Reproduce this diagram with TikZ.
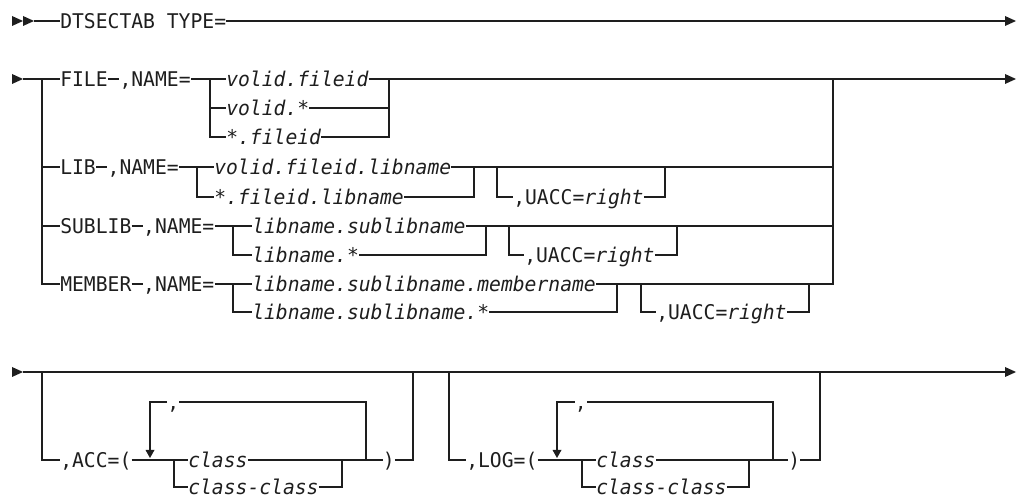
\documentclass[tikz,border=0pt]{standalone}
\usepackage{fontspec}
\newfontfamily\synfont[FakeStretch=0.971]{DejaVu Sans Mono}
\definecolor{ink}{HTML}{1E1E1E}
\newcommand{\synsize}{\fontsize{15.2pt}{17pt}\selectfont}
\begin{document}
\begin{tikzpicture}[x=0.75pt,y=-0.75pt,
  rail/.style={draw=ink, line width=0.95pt},
  kw/.style={font=\synfont\synsize, text=ink, inner xsep=0pt, inner ysep=0pt,
             text height=11.08pt, text depth=0pt, anchor=west},
  vtext/.style={kw, font=\synfont\synsize\itshape},
  arrowfill/.style={fill=ink, draw=none}]
\useasboundingbox (0,0) rectangle (1018,498);

% ---------- statement start ----------
\fill[arrowfill] (12,16) -- (23,21) -- (12,26) -- cycle;
\fill[arrowfill] (23,16) -- (34,21) -- (23,26) -- cycle;
\coordinate (s1) at (34,21);
\coordinate (e1) at (1005,21);
\node[kw] (dts) at (60,21) {DTSECTAB TYPE=};
\draw[rail] (s1) -- (dts.west);
\draw[rail] (dts.east) -- (e1);
\fill[arrowfill] (1005,16) -- (1016,21) -- (1005,26) -- cycle;

% ---------- type alternatives ----------
\fill[arrowfill] (12,74) -- (23,79) -- (12,84) -- cycle;
\coordinate (s2) at (23,79);
\coordinate (tl) at (42,79);
\coordinate (tr) at (833,79);
\coordinate (e2) at (1005,79);
\fill[arrowfill] (1005,74) -- (1016,79) -- (1005,84) -- cycle;

% FILE
\node[kw] (file) at (60,79) {FILE};
\node[kw] (fileN) at (119.25,79) {,NAME=};
\coordinate (fj) at (210,79);
\node[vtext] (f1) at (226,79) {volid.fileid};
\node[vtext] (f2) at (226,108) {volid.*};
\node[vtext] (f3) at (226,137) {*.fileid};
\coordinate (fb) at (389,79);
\draw[rail] (s2) -- (file.west);
\draw[rail] (file.east) -- (fileN.west);
\draw[rail] (fileN.east) -- (f1.west);
\draw[rail] (fj) |- (f3.west);
\draw[rail] (fj |- f2.west) -- (f2.west);
\draw[rail] (f1.east) -- (e2);
\draw[rail] (f3.east) -| (fb);
\draw[rail] (f2.east) -- (fb |- f2.east);

% LIB
\node[kw] (lib) at (60,167) {LIB};
\node[kw] (libN) at (107.4,167) {,NAME=};
\coordinate (lj) at (197,167);
\node[vtext] (l1) at (214,167) {volid.fileid.libname};
\node[vtext] (l2) at (214,197) {*.fileid.libname};
\coordinate (lb) at (474,167);
\coordinate (lu) at (497,167);
\node[kw] (lacc) at (513,197) {,UACC={\itshape right}};
\coordinate (lue) at (665,167);
\draw[rail] (tl |- lib.west) -- (lib.west);
\draw[rail] (lib.east) -- (libN.west);
\draw[rail] (libN.east) -- (l1.west);
\draw[rail] (lj) |- (l2.west);
\draw[rail] (l1.east) -- (tr |- l1.east);
\draw[rail] (l2.east) -| (lb);
\draw[rail] (lu) |- (lacc.west);
\draw[rail] (lacc.east) -| (lue);

% SUBLIB
\node[kw] (sub) at (60,226) {SUBLIB};
\node[kw] (subN) at (142.95,226) {,NAME=};
\coordinate (sj) at (233,226);
\node[vtext] (sa) at (252,226) {libname.sublibname};
\node[vtext] (sb) at (252,255) {libname.*};
\coordinate (sbar) at (486,226);
\coordinate (su) at (509,226);
\node[kw] (sacc) at (524,255) {,UACC={\itshape right}};
\coordinate (sue) at (677,226);
\draw[rail] (tl |- sub.west) -- (sub.west);
\draw[rail] (sub.east) -- (subN.west);
\draw[rail] (subN.east) -- (sa.west);
\draw[rail] (sj) |- (sb.west);
\draw[rail] (sa.east) -- (tr |- sa.east);
\draw[rail] (sb.east) -| (sbar);
\draw[rail] (su) |- (sacc.west);
\draw[rail] (sacc.east) -| (sue);

% MEMBER
\node[kw] (mem) at (60,284) {MEMBER};
\node[kw] (memN) at (142.95,284) {,NAME=};
\coordinate (mj) at (233,284);
\node[vtext] (ma) at (252,284) {libname.sublibname.membername};
\node[vtext] (mb) at (252,312) {libname.sublibname.*};
\coordinate (mbar) at (617,284);
\coordinate (mu) at (641,284);
\node[kw] (macc) at (656,312) {,UACC={\itshape right}};
\coordinate (mue) at (809,284);
\draw[rail] (tl) |- (mem.west);
\draw[rail] (mem.east) -- (memN.west);
\draw[rail] (memN.east) -- (ma.west);
\draw[rail] (mj) |- (mb.west);
\draw[rail] (ma.east) -| (tr);
\draw[rail] (mb.east) -| (mbar);
\draw[rail] (mu) |- (macc.west);
\draw[rail] (macc.east) -| (mue);

% ---------- access and logging options ----------
\fill[arrowfill] (12,367) -- (23,372) -- (12,377) -- cycle;
\coordinate (s3) at (23,372);
\coordinate (e3) at (1005,372);
\draw[rail] (s3) -- (e3);
\fill[arrowfill] (1005,367) -- (1016,372) -- (1005,377) -- cycle;

% ACC
\coordinate (al) at (42,372);
\coordinate (ar) at (413,372);
\node[kw] (acc) at (60,460) {,ACC=(};
\coordinate (aj) at (174,460);
\node[vtext] (ac1) at (188,460) {class};
\node[vtext] (ac2) at (188,487) {class-class};
\coordinate (abar) at (342,460);
\coordinate (aloop) at (366,460);
\node[kw] (ap) at (382.5,460) {)};
\node[kw] (acomma) at (167,402) {,};
\coordinate (aarr) at (150,450);
\draw[rail] (al) |- (acc.west);
\draw[rail] (acc.east) -- (ac1.west);
\draw[rail] (aj) |- (ac2.west);
\draw[rail] (ac1.east) -- (ap.west);
\draw[rail] (ac2.east) -| (abar);
\draw[rail] (ap.east) -| (ar);
\draw[rail] (aloop) |- (acomma.east);
\draw[rail] (acomma.west) -| (aarr);
\fill[arrowfill] (145.5,450) -- (154.5,450) -- (150,458) -- cycle;

% LOG
\coordinate (gl) at (449,372);
\coordinate (gr) at (820,372);
\node[kw] (log) at (466,460) {,LOG=(};
\coordinate (gj) at (582,460);
\node[vtext] (g1) at (596,460) {class};
\node[vtext] (g2) at (596,487) {class-class};
\coordinate (gbar) at (749,460);
\coordinate (gloop) at (773,460);
\node[kw] (gp) at (788,460) {)};
\node[kw] (gcomma) at (574.5,402) {,};
\coordinate (garr) at (557,450);
\draw[rail] (gl) |- (log.west);
\draw[rail] (log.east) -- (g1.west);
\draw[rail] (gj) |- (g2.west);
\draw[rail] (g1.east) -- (gp.west);
\draw[rail] (g2.east) -| (gbar);
\draw[rail] (gp.east) -| (gr);
\draw[rail] (gloop) |- (gcomma.east);
\draw[rail] (gcomma.west) -| (garr);
\fill[arrowfill] (552.5,450) -- (561.5,450) -- (557,458) -- cycle;
\end{tikzpicture}
\end{document}
